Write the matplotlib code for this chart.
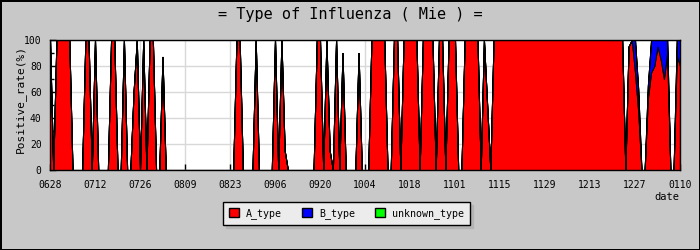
import matplotlib
matplotlib.use('Agg')
import matplotlib.pyplot as plt
from matplotlib.patches import Patch
import numpy as np

# daily positive rate (%), 0628 .. 0110, one row = two weeks
a_type = [
    100, 0, 100, 100, 100, 100, 100, 0, 0, 0, 0, 100, 100, 0,
    100, 0, 0, 0, 0, 100, 100, 0, 0, 100, 0, 0, 60, 100,
    0, 100, 0, 100, 100, 0, 0, 87, 0, 0, 0, 0, 0, 0,
    0, 0, 0, 0, 0, 0, 0, 0, 0, 0, 0, 0, 0, 0,
    0, 0, 100, 100, 0, 0, 0, 0, 100, 0, 0, 0, 0, 0,
    100, 0, 100, 15, 0, 0, 0, 0, 0, 0, 0, 0, 0, 100,
    100, 0, 100, 15, 0, 100, 0, 90, 0, 0, 0, 0, 90, 0,
    0, 0, 100, 100, 100, 100, 100, 0, 0, 100, 100, 0, 100, 100,
    100, 100, 100, 0, 100, 100, 100, 100, 0, 100, 100, 0, 100, 100,
    100, 0, 0, 100, 100, 100, 100, 100, 0, 100, 50, 0, 100, 100,
    100, 100, 100, 100, 100, 100, 100, 100, 100, 100, 100, 100, 100, 100,
    100, 100, 100, 100, 100, 100, 100, 100, 100, 100, 100, 100, 100, 100,
    100, 100, 100, 100, 100, 100, 100, 100, 100, 100, 100, 0, 95, 100,
    75, 45, 0, 0, 55, 75, 80, 95, 85, 70, 90, 0, 0, 88,
    80,
]
b_type = [0] * 182 + [25, 17, 0, 0, 10, 25, 20, 5, 15, 30, 10, 0, 0, 12, 20]
unknown_type = [0] * 197

tick_labels = ['0628', '0712', '0726', '0809', '0823', '0906', '0920', '1004',
               '1018', '1101', '1115', '1129', '1213', '1227', '0110']
series_names = ['A_type', 'B_type', 'unknown_type']
series_colors = ['#ff0000', '#0000ff', '#00ff00']

plt.rcParams['font.family'] = 'DejaVu Sans Mono'

fig = plt.figure(figsize=(7, 2.5), dpi=100, facecolor='#c8c8c8',
                 edgecolor='black', linewidth=2)
ax = fig.add_axes([50 / 700, 80 / 250, 630 / 700, 130 / 250])
ax.set_facecolor('white')
ax.set_axisbelow(True)

days = np.arange(len(a_type))
ax.stackplot(days, a_type, b_type, unknown_type, colors=series_colors,
             edgecolor='black', linewidth=0.75, antialiased=False)

ax.set_xlim(0, len(a_type) - 1)
ax.set_ylim(0, 100)
ax.set_xticks(np.arange(0, len(a_type), 14))
ax.set_xticklabels(tick_labels)
ax.set_yticks(range(0, 101, 20))
ax.set_yticks(range(0, 101, 10), minor=True)
ax.tick_params(axis='both', which='both', direction='in', color='black',
               labelsize=7, width=1)
ax.tick_params(axis='x', length=4, pad=7)
ax.tick_params(axis='y', which='major', length=4, pad=6)
ax.tick_params(axis='y', which='minor', length=3)
ax.grid(color='#d8d8d8', linewidth=1)
for s in ax.spines.values():
    s.set_linewidth(1)
    s.set_color('black')

fig.text(0.5, 1 - 15 / 250, '= Type of Influenza ( Mie ) =',
         ha='center', va='center', fontsize=11)
fig.text(20 / 700, 1 - 99 / 250, 'Positive_rate(%)', rotation=90,
         ha='center', va='center', fontsize=8)
fig.text(667 / 700, 1 - 197 / 250, 'date', ha='center', va='center', fontsize=7.5)

handles = [Patch(facecolor=c, edgecolor='black', linewidth=1) for c in series_colors]
ax.legend(handles, series_names, ncol=3, loc='upper left',
          bbox_to_anchor=(223 / 700, 1 - 202 / 250), bbox_transform=fig.transFigure,
          borderaxespad=0, fancybox=False, edgecolor='black', facecolor='#ececec',
          framealpha=1, shadow={'color': '#b4b4b4', 'alpha': 1},
          fontsize=7.2, handlelength=1.0, handleheight=1.0, handletextpad=0.7,
          columnspacing=2.0, borderpad=0.6)

fig.savefig('out.png', dpi=100)
